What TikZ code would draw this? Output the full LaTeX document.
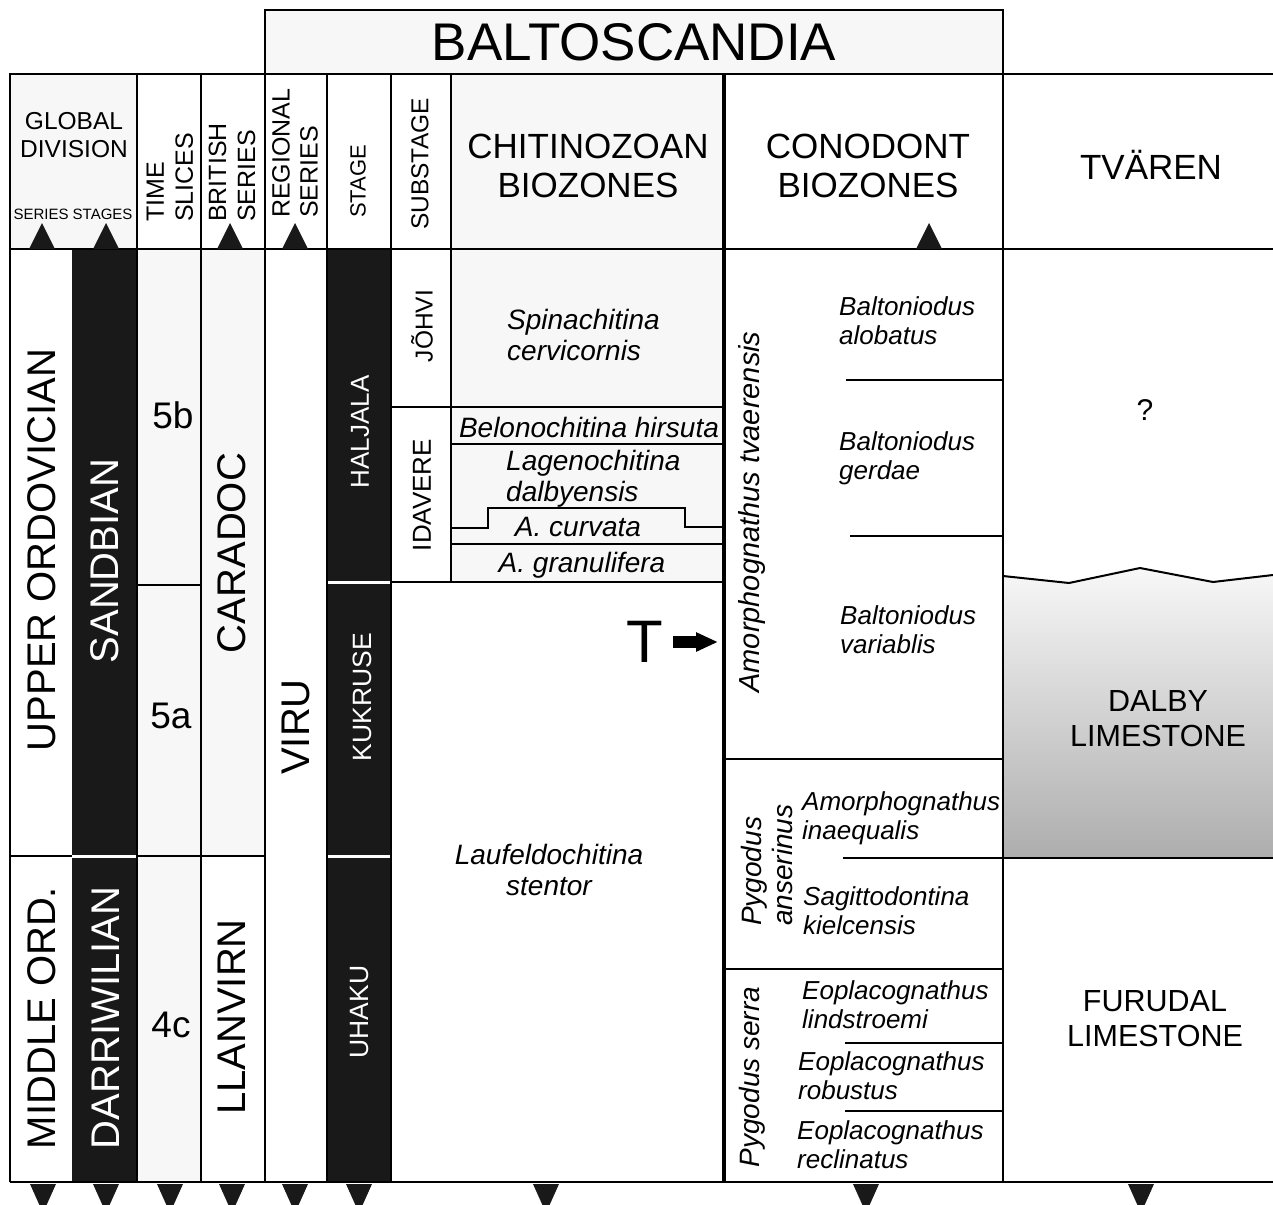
\documentclass[tikz,border=0pt]{standalone}
\usepackage{fontspec}
\setmainfont{Liberation Sans}
\usetikzlibrary{arrows.meta}
\newcommand{\tamano}[2]{\fontsize{#1}{#2}\selectfont}
\begin{document}
\begin{tikzpicture}[x=1pt,y=-1pt,
        every node/.style={inner sep=0pt},
        linea/.style={line width=2.2pt},
        negro/.style={fill=black!90},
        claro/.style={fill=black!3},
        cab/.style={font=\tamano{35}{39},align=center},
        vert/.style={rotate=90,anchor=west,align=left,font=\tamano{25}{29}},
        grande/.style={rotate=90,font=\tamano{40}{46}},
        etapa/.style={rotate=90,text=white,font=\tamano{26.5}{30}},
        zona/.style={font=\itshape\tamano{28}{31}},
        subzona/.style={font=\itshape\tamano{26}{29},align=left,anchor=west},
        litol/.style={font=\tamano{30.5}{35},align=center}]
        \useasboundingbox (0,0) rectangle (1273,1204);

        % ~~~~ Rellenos ~~~~ %
        \fill[claro] (265,10) rectangle (1003,74);
        \fill[claro] (10,74) rectangle (137,249);
        \fill[claro] (451,74) rectangle (724,249);
        \fill[claro] (137,249) rectangle (201,1182);
        \fill[claro] (201,249) rectangle (265,856);
        \fill[claro] (451,249) rectangle (724,582);
        \fill[negro] (72,249) rectangle (137,855);
        \fill[negro] (72,858) rectangle (137,1182);
        \fill[negro] (327,249) rectangle (391,581);
        \fill[negro] (327,584) rectangle (391,855);
        \fill[negro] (327,858) rectangle (391,1182);
        \shade[top color=black!3, bottom color=black!32]
            (1003,576) -- (1069,583) -- (1140,568) -- (1213,582) -- (1273,575)
            -- (1273,858) -- (1003,858) -- cycle;

        % ~~~~ Marco ~~~~ %
        \draw[linea] (265,74) -- (265,10) -- (1003,10) -- (1003,1182);
        \draw[linea] (10,1182) -- (10,74) -- (1273,74);
        \draw[linea] (10,249) -- (1273,249);
        \draw[linea] (10,1182) -- (1273,1182);
        \foreach \x in {137,201,265,327,391}
            \draw[linea] (\x,74) -- (\x,1182);
        \draw[linea] (451,74) -- (451,582);
        \draw[line width=4pt] (724,74) -- (724,1182);

        % ~~~~ Divisiones ~~~~ %
        \draw[linea] (10,856) -- (72,856);
        \draw[linea] (137,856) -- (265,856);
        \draw[linea] (137,585) -- (201,585);
        \draw[linea] (391,407) -- (724,407);
        \draw[linea] (451,444) -- (724,444);
        \draw[linea] (451,528) -- (488,528) -- (488,508) -- (685,508) -- (685,527) -- (724,527);
        \draw[linea] (451,544) -- (724,544);
        \draw[linea] (391,582) -- (724,582);
        \draw[linea] (846,380) -- (1003,380);
        \draw[linea] (850,536) -- (1003,536);
        \draw[linea] (724,759) -- (1003,759);
        \draw[linea] (843,858) -- (1273,858);
        \draw[linea] (724,969) -- (1003,969);
        \draw[linea] (845,1043) -- (1003,1043);
        \draw[linea] (845,1111) -- (1003,1111);
        \draw[line width=2pt] (1003,576) -- (1069,583) -- (1140,568) -- (1213,582) -- (1273,575);

        % ~~~~ Triangulos ~~~~ %
        \foreach \x in {42,106,230,295,929}
            \fill[black!90] (\x-13,249) -- (\x+13,249) -- (\x,223) -- cycle;
        \foreach \x in {43,106,170,232,295,359,546,866,1141}
            \fill[black!90] (\x-13,1184) -- (\x+13,1184) -- (\x,1213) -- cycle;

        % ~~~~ Cabecera ~~~~ %
        \node[font=\tamano{53}{60}] (balto) at (634,42) {BALTOSCANDIA};
        \node[align=center,font=\tamano{24.5}{28}] (global) at (74,135) {GLOBAL\\DIVISION};
        \node[font=\tamano{15}{17}] (serest) at (73,214) {SERIES STAGES};
        \node[vert] (slices) at (170,222) {TIME\\SLICES};
        \node[vert] (british) at (232,222) {BRITISH\\SERIES};
        \node[vert,font=\tamano{25}{28}] (regional) at (295,218) {REGIONAL\\SERIES};
        \node[vert,font=\tamano{22}{25}] (stage) at (358,218) {STAGE};
        \node[vert,font=\tamano{24.5}{28}] (substage) at (420,230) {SUBSTAGE};
        \node[cab] (chitcab) at (588,166) {CHITINOZOAN\\BIOZONES};
        \node[cab] (conocab) at (868,166) {CONODONT\\BIOZONES};
        \node[cab] (tvaren) at (1151,165) {TVÄREN};

        % ~~~~ Division global ~~~~ %
        \node[grande] (upper) at (42,550) {UPPER ORDOVICIAN};
        \node[grande,text=white] (sandbian) at (105,561) {SANDBIAN};
        \node[grande] (middle) at (42,1018) {MIDDLE ORD.};
        \node[grande,text=white] (darriw) at (106,1018) {DARRIWILIAN};
        \node[font=\tamano{37}{40}] (s5b) at (173,415) {5b};
        \node[font=\tamano{37}{40}] (s5a) at (171,716) {5a};
        \node[font=\tamano{37}{40}] (s4c) at (171,1025) {4c};
        \node[grande] (caradoc) at (232,553) {CARADOC};
        \node[grande] (llanvirn) at (232,1017) {LLANVIRN};
        \node[grande] (viru) at (296,727) {VIRU};

        % ~~~~ Pisos ~~~~ %
        \node[etapa,font=\tamano{26}{30}] (haljala) at (360,432) {HALJALA};
        \node[etapa] (kukruse) at (362,697) {KUKRUSE};
        \node[etapa] (uhaku) at (360,1012) {UHAKU};
        \node[rotate=90,font=\tamano{24.5}{28}] (johvi) at (422,326) {JÕHVI};
        \node[rotate=90,font=\tamano{26}{30}] (idavere) at (422,495) {IDAVERE};

        % ~~~~ Quitinozoos ~~~~ %
        \node[zona,align=left,anchor=west] (spina) at (507,335) {Spinachitina\\cervicornis};
        \node[zona] (belono) at (589,427) {Belonochitina hirsuta};
        \node[zona,align=left,anchor=west] (lageno) at (506,479) {Lagenochitina\\dalbyensis};
        \node[zona] (curvata) at (578,527) {A. curvata};
        \node[zona] (granul) at (582,565) {A. granulifera};
        \node[zona,align=center] (laufeld) at (549,870) {Laufeldochitina\\stentor};
        \node[font=\tamano{60}{60}] (T) at (645,642) {T};
        \coordinate (tfin) at (718,642);
        \draw[line width=12pt, -{Triangle[length=22pt,width=18pt]}, shorten <=9pt] (T) -- (tfin);

        % ~~~~ Conodontos ~~~~ %
        \node[zona,rotate=90,font=\itshape\tamano{29}{32}] (tvaer) at (752,512) {Amorphognathus tvaerensis};
        \node[subzona] (alobatus) at (839,321) {Baltoniodus\\alobatus};
        \node[subzona] (gerdae) at (839,458) {Baltoniodus\\gerdae};
        \node[subzona] (variab) at (840,630) {Baltoniodus\\variablis};
        \node[zona,rotate=90,anchor=west,align=left] (anser) at (767,926) {Pygodus\\anserinus};
        \node[subzona] (inaeq) at (802,818) {Amorphognathus\\inaequalis};
        \node[subzona] (sagitt) at (803,911) {Sagittodontina\\kielcensis};
        \node[zona,rotate=90] (serra) at (752,1077) {Pygodus serra};
        \node[subzona] (lindst) at (802,1005) {Eoplacognathus\\lindstroemi};
        \node[subzona] (robust) at (798,1076) {Eoplacognathus\\robustus};
        \node[subzona] (reclin) at (797,1145) {Eoplacognathus\\reclinatus};

        % ~~~~ Tvaren ~~~~ %
        \node[font=\tamano{30}{34}] (duda) at (1145,410) {?};
        \node[litol] (dalby) at (1158,719) {DALBY\\LIMESTONE};
        \node[litol] (furudal) at (1155,1019) {FURUDAL\\LIMESTONE};
    \end{tikzpicture}
\end{document}
